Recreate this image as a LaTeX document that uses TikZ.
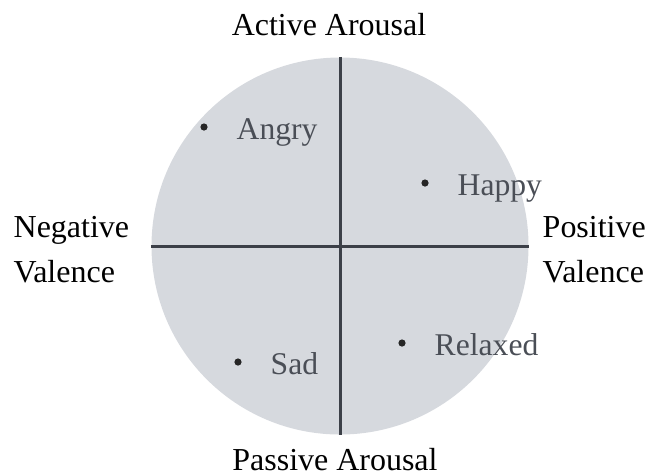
\documentclass[tikz,border=0pt]{standalone}
\usepackage{fontspec}
\setmainfont{Liberation Serif}
\usetikzlibrary{positioning}

\definecolor{discfill}{HTML}{D6D9DE}
\definecolor{axisline}{HTML}{3C4048}
\definecolor{emotext}{HTML}{4A4E56}

\tikzset{
  axislabel/.style={inner sep=0pt, font=\fontsize{9.1}{12.8}\selectfont, text=black},
  emotion/.style={inner sep=0pt, font=\fontsize{9.0}{11}\selectfont, text=emotext},
  pt/.style={circle, fill=black!85, inner sep=0pt, minimum size=0.072cm}
}

\begin{document}
\begin{tikzpicture}
  \useasboundingbox (-3.40,-2.29) rectangle (3.05,2.46);

  % disc and axes
  \node[circle, fill=discfill, inner sep=0pt, minimum size=3.77cm] (wheel) at (0,0) {};
  \draw[axisline, line width=0.85pt] (wheel.north) -- (wheel.south);
  \draw[axisline, line width=0.85pt] (wheel.west) -- (wheel.east);

  % axis labels
  \node[axislabel, anchor=base] (active) at (-0.11,2.11) {Active Arousal};
  \node[axislabel, anchor=base] (passive) at (-0.05,-2.24) {Passive Arousal};
  \node[axislabel, anchor=west, align=left] (negval) at (-3.27,-0.035) {Negative\\Valence};
  \node[axislabel, anchor=west, align=left] (posval) at (2.02,-0.035) {Positive\\Valence};

  % emotions
  \foreach \name/\px/\py in {Angry/-1.36/1.19, Happy/0.85/0.63, Sad/-1.02/-1.16, Relaxed/0.62/-0.97} {
    \node[pt] (dot\name) at (\px,\py) {};
    \node[emotion, anchor=base west] (lbl\name) at (\px+0.32,\py-0.12) {\name};
  }

\end{tikzpicture}
\end{document}
